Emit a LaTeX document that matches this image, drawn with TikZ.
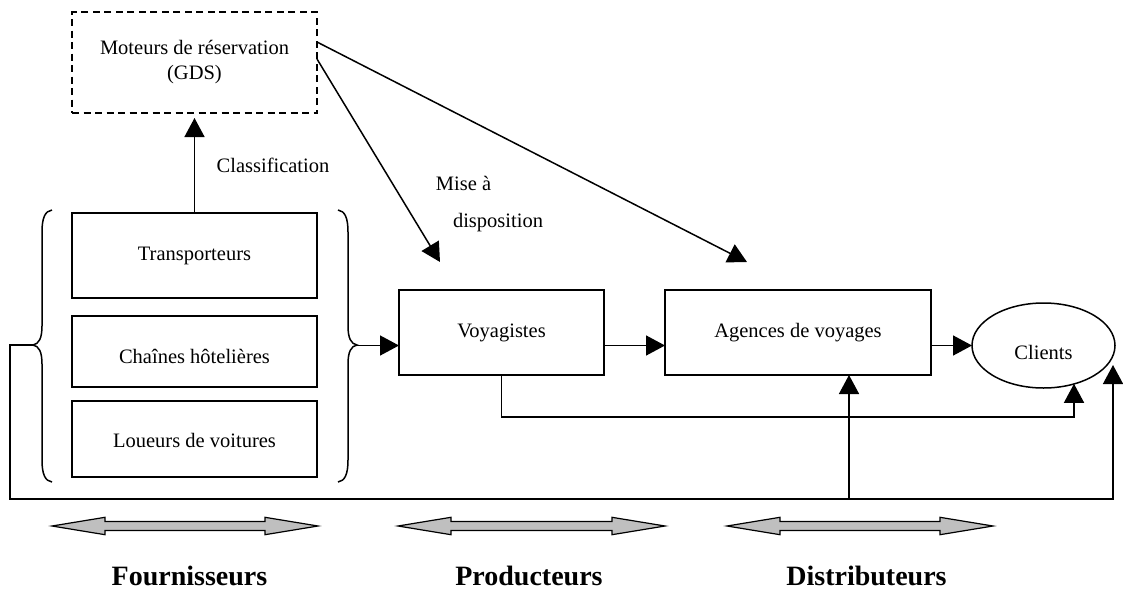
\documentclass[tikz,border=0pt]{standalone}
\usepackage{fontspec}
\setmainfont{Liberation Serif}
\usetikzlibrary{arrows.meta,shapes.geometric,calc}
\newcommand\myband[2]{%
  \draw[band] (#1,526) -- ++(53,-8.7) -- ++(0,4.2) -- ({#2-53},521.5) -- ++(0,-4.2)
    -- (#2,526) -- ++(-53,8.7) -- ++(0,-4.2) -- ({#1+53},530.5) -- ++(0,4.2) -- cycle;}
\newcommand\shifttxt[2]{\raisebox{#1}[\height][\depth]{#2}}
\begin{document}
\begin{tikzpicture}[x=1pt,y=-1pt,
  every node/.style={font=\fontsize{20.5}{25}\selectfont},
  box/.style={draw,line width=1.5pt,inner sep=0pt,outer sep=0pt},
  gds/.style={draw,line width=1.3pt,dash pattern=on 7pt off 4.5pt,inner sep=0pt,outer sep=0pt,align=center},
  conn/.style={line width=1.5pt,-{Triangle[length=19pt,width=20pt]}},
  brace/.style={line width=1.5pt},
  band/.style={draw,line width=1.2pt,fill=black!25,line join=miter},
  lab/.style={font=\fontsize{28}{30}\selectfont\bfseries,anchor=base}]
\useasboundingbox (0,0) rectangle (1123,589);

% boxes
\node[gds,minimum width=245pt,minimum height=101pt] (gds) at (194.5,62.5) {Moteurs de réservation\\(GDS)};
\node[box,minimum width=245pt,minimum height=85pt] (tr) at (194.5,255.5) {Transporteurs};
\node[box,minimum width=245pt,minimum height=71pt] (ch) at (194.5,351.5) {\shifttxt{-4.5pt}{Chaînes hôtelières}};
\node[box,minimum width=245pt,minimum height=76pt] (lo) at (194.5,439) {\shifttxt{-1pt}{Loueurs de voitures}};
\node[box,minimum width=205pt,minimum height=85pt] (voy) at (501.5,332.5) {Voyagistes};
\node[box,minimum width=266pt,minimum height=85pt] (ag) at (798,332.5) {Agences de voyages};
\node[draw,ellipse,line width=1.5pt,inner sep=0pt,outer sep=0pt,minimum width=143pt,minimum height=85pt] (cl) at (1043.5,345.5) {\shifttxt{-7pt}{Clients}};

% labels
\node (cla) at (273,165) {Classification};
\node (mise) at (463.5,183) {Mise à};
\node (disp) at (498,223) {disposition};

% braces
\draw[brace] (52,210) .. controls (45,211) and (42,218) .. (42,232) -- (42,326)
  .. controls (42,338) and (39,344) .. (33,345) .. controls (39,346) and (42,352) .. (42,364)
  -- (42,460) .. controls (42,474) and (45,481) .. (52,482);
\draw[brace] (338,210) .. controls (345,211) and (348,218) .. (348,232) -- (348,326)
  .. controls (348,338) and (351,344) .. (357,345) .. controls (351,346) and (348,352) .. (348,364)
  -- (348,460) .. controls (348,474) and (345,481) .. (338,482);
\coordinate (lb) at (33,345);
\coordinate (rb) at (357,345.5);

% connectors
\draw[conn,shorten >=5pt] (tr.north) -- (gds.south);
\coordinate (g1) at (gds.east |- 0,42);
\coordinate (g2) at (gds.east |- 0,59);
\coordinate (t1) at (440,262);
\coordinate (t2) at (747,262);
\draw[conn] (g2) -- (t1);
\draw[conn] (g1) -- (t2);
\draw[conn] (rb) -- (rb -| voy.west);
\draw[conn] (voy.east |- rb) -- (ag.west |- rb);
\draw[conn] (ag.east |- rb) -- (cl.west);
\coordinate (c1) at (1074,417);
\draw[conn] (voy.south) |- (c1) -- (c1 |- cl.-51);
\coordinate (b0) at (10,499);
\coordinate (b1) at (1113,499);
\coordinate (b2) at (1113,365);
\coordinate (ba) at (849,499);
\draw[conn] (lb) -| (b0) -- (b1) -- (b2);
\draw[conn] (ba) -- (ag.south -| ba);

% bottom bands
\myband{52}{318}
\myband{398}{665}
\myband{727}{993}
\node[lab] (fl) at (189.5,585) {Fournisseurs};
\node[lab] (pl) at (529,585) {Producteurs};
\node[lab] (dl) at (866.5,585) {Distributeurs};
\end{tikzpicture}
\end{document}
